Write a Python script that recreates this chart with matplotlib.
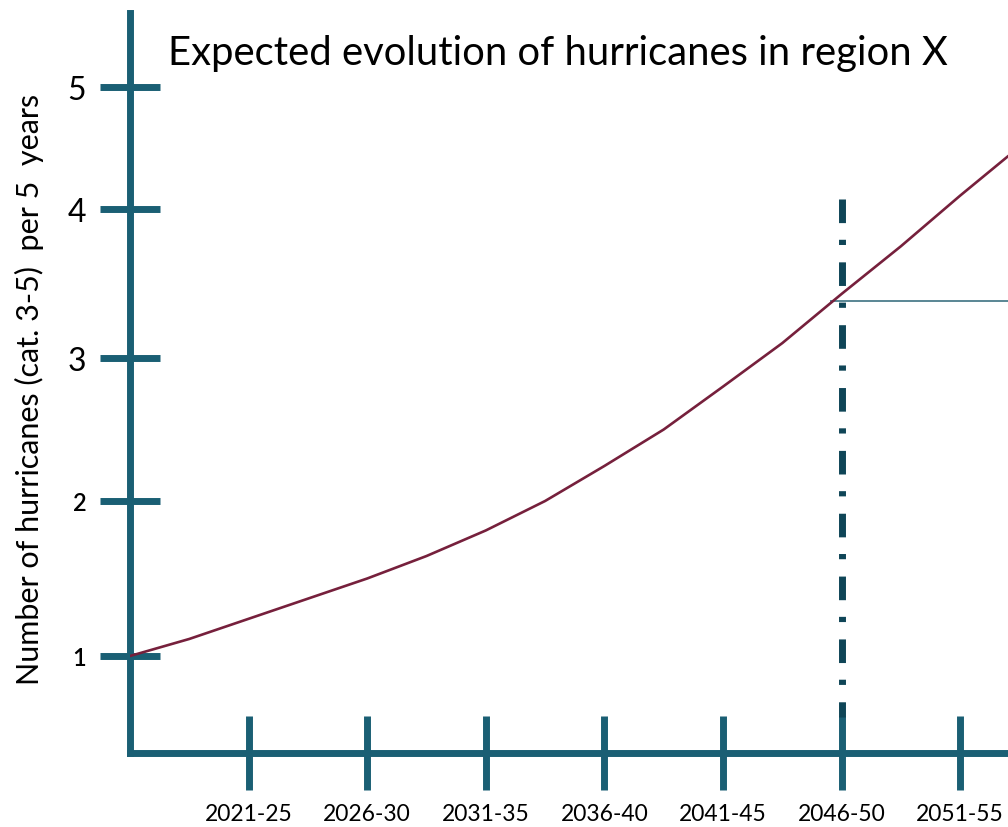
import matplotlib
matplotlib.use("Agg")
import matplotlib.pyplot as plt
import numpy as np

plt.rcParams.update({
    "font.family": ["Lato", "DejaVu Sans"],
    "figure.facecolor": "white",
    "axes.facecolor": "white",
})

TEAL = "#1a5f74"
TEAL_DARK = "#0f4557"
MAROON = "#76203c"

# periods on the x axis (index 0 = the y axis itself)
periods = ["2021-25", "2026-30", "2031-35", "2036-40", "2041-45", "2046-50", "2051-55"]
period_idx = [1, 2, 3, 4, 5, 6, 7]

# curve at half-period steps
curve_x = [0, 0.5, 1, 1.5, 2, 2.5, 3, 3.5, 4, 4.5, 5, 5.5, 6, 6.5, 7, 7.4]
curve_y = [1.00, 1.11, 1.24, 1.37, 1.50, 1.645, 1.81, 2.00, 2.245, 2.50,
           2.80, 3.10, 3.43, 3.75, 4.11, 4.43]

y_ticks = [1, 2, 3, 4, 5]
y_ticklabels = ["1", "2", "3", "4", "5"]

marker_period = 6      # 2046-50
marker_level = 3.38    # value reached in 2046-50

# the hand-drawn y axis is not evenly spaced: value -> height in px
scale_vals = [0, 1, 2, 3, 4, 5, 6]
scale_pos = [-58, 97, 252, 395, 544, 666, 788]


def fwd(v):
    return np.interp(v, scale_vals, scale_pos)


def inv(p):
    return np.interp(p, scale_pos, scale_vals)


fig = plt.figure(figsize=(10.08, 8.28), dpi=100)
ax = fig.add_axes([130 / 1008, 74 / 828, 878 / 1008, 740 / 828])
ax.set_yscale("function", functions=(fwd, inv))
ax.set_xlim(0, 878 / 118.6)
ax.set_ylim(float(inv(0)), float(inv(740)))

ax.plot(curve_x, curve_y, color=MAROON, linewidth=1.9, zorder=3)

# dash-dot marker for 2046-50
ax.plot([marker_period, marker_period], [0.749, 0.049],
        transform=ax.get_xaxis_transform(), color=TEAL_DARK, linewidth=5,
        dashes=(3.4, 2.4, 0.75, 2.5), solid_capstyle="butt",
        dash_capstyle="butt", zorder=2)
ax.hlines(marker_level, marker_period - 0.1, ax.get_xlim()[1],
          color="#2c6676", linewidth=1.1, zorder=2)

for side in ["top", "right"]:
    ax.spines[side].set_visible(False)
for side in ["left", "bottom"]:
    ax.spines[side].set_linewidth(5)
    ax.spines[side].set_color(TEAL)
    ax.spines[side].set_capstyle("projecting")

ax.set_xticks(period_idx)
ax.set_xticklabels(periods, fontsize=16.5)
ax.set_yticks(y_ticks)
ax.set_yticklabels(y_ticklabels)
ax.yaxis.set_minor_locator(matplotlib.ticker.NullLocator())
ax.tick_params(axis="x", direction="inout", length=52.6, width=5,
               color=TEAL, pad=10)
ax.tick_params(axis="y", direction="inout", length=43, width=5,
               color=TEAL, pad=10)
for lab in ax.get_yticklabels():
    if lab.get_text() in ("1", "2"):
        lab.set_fontsize(17)
        lab.set_fontweight("semibold")
    else:
        lab.set_fontsize(23)

fig.text(168 / 1008, 1 - 65 / 828, "Expected evolution of hurricanes in region X",
         fontsize=28.8, va="baseline", ha="left")
fig.text(29 / 1008, 1 - 389 / 828,
         "Number of hurricanes (cat. 3-5)  per 5  years",
         fontsize=22, rotation=90, ha="center", va="center")

fig.savefig("out.png", dpi=100)
